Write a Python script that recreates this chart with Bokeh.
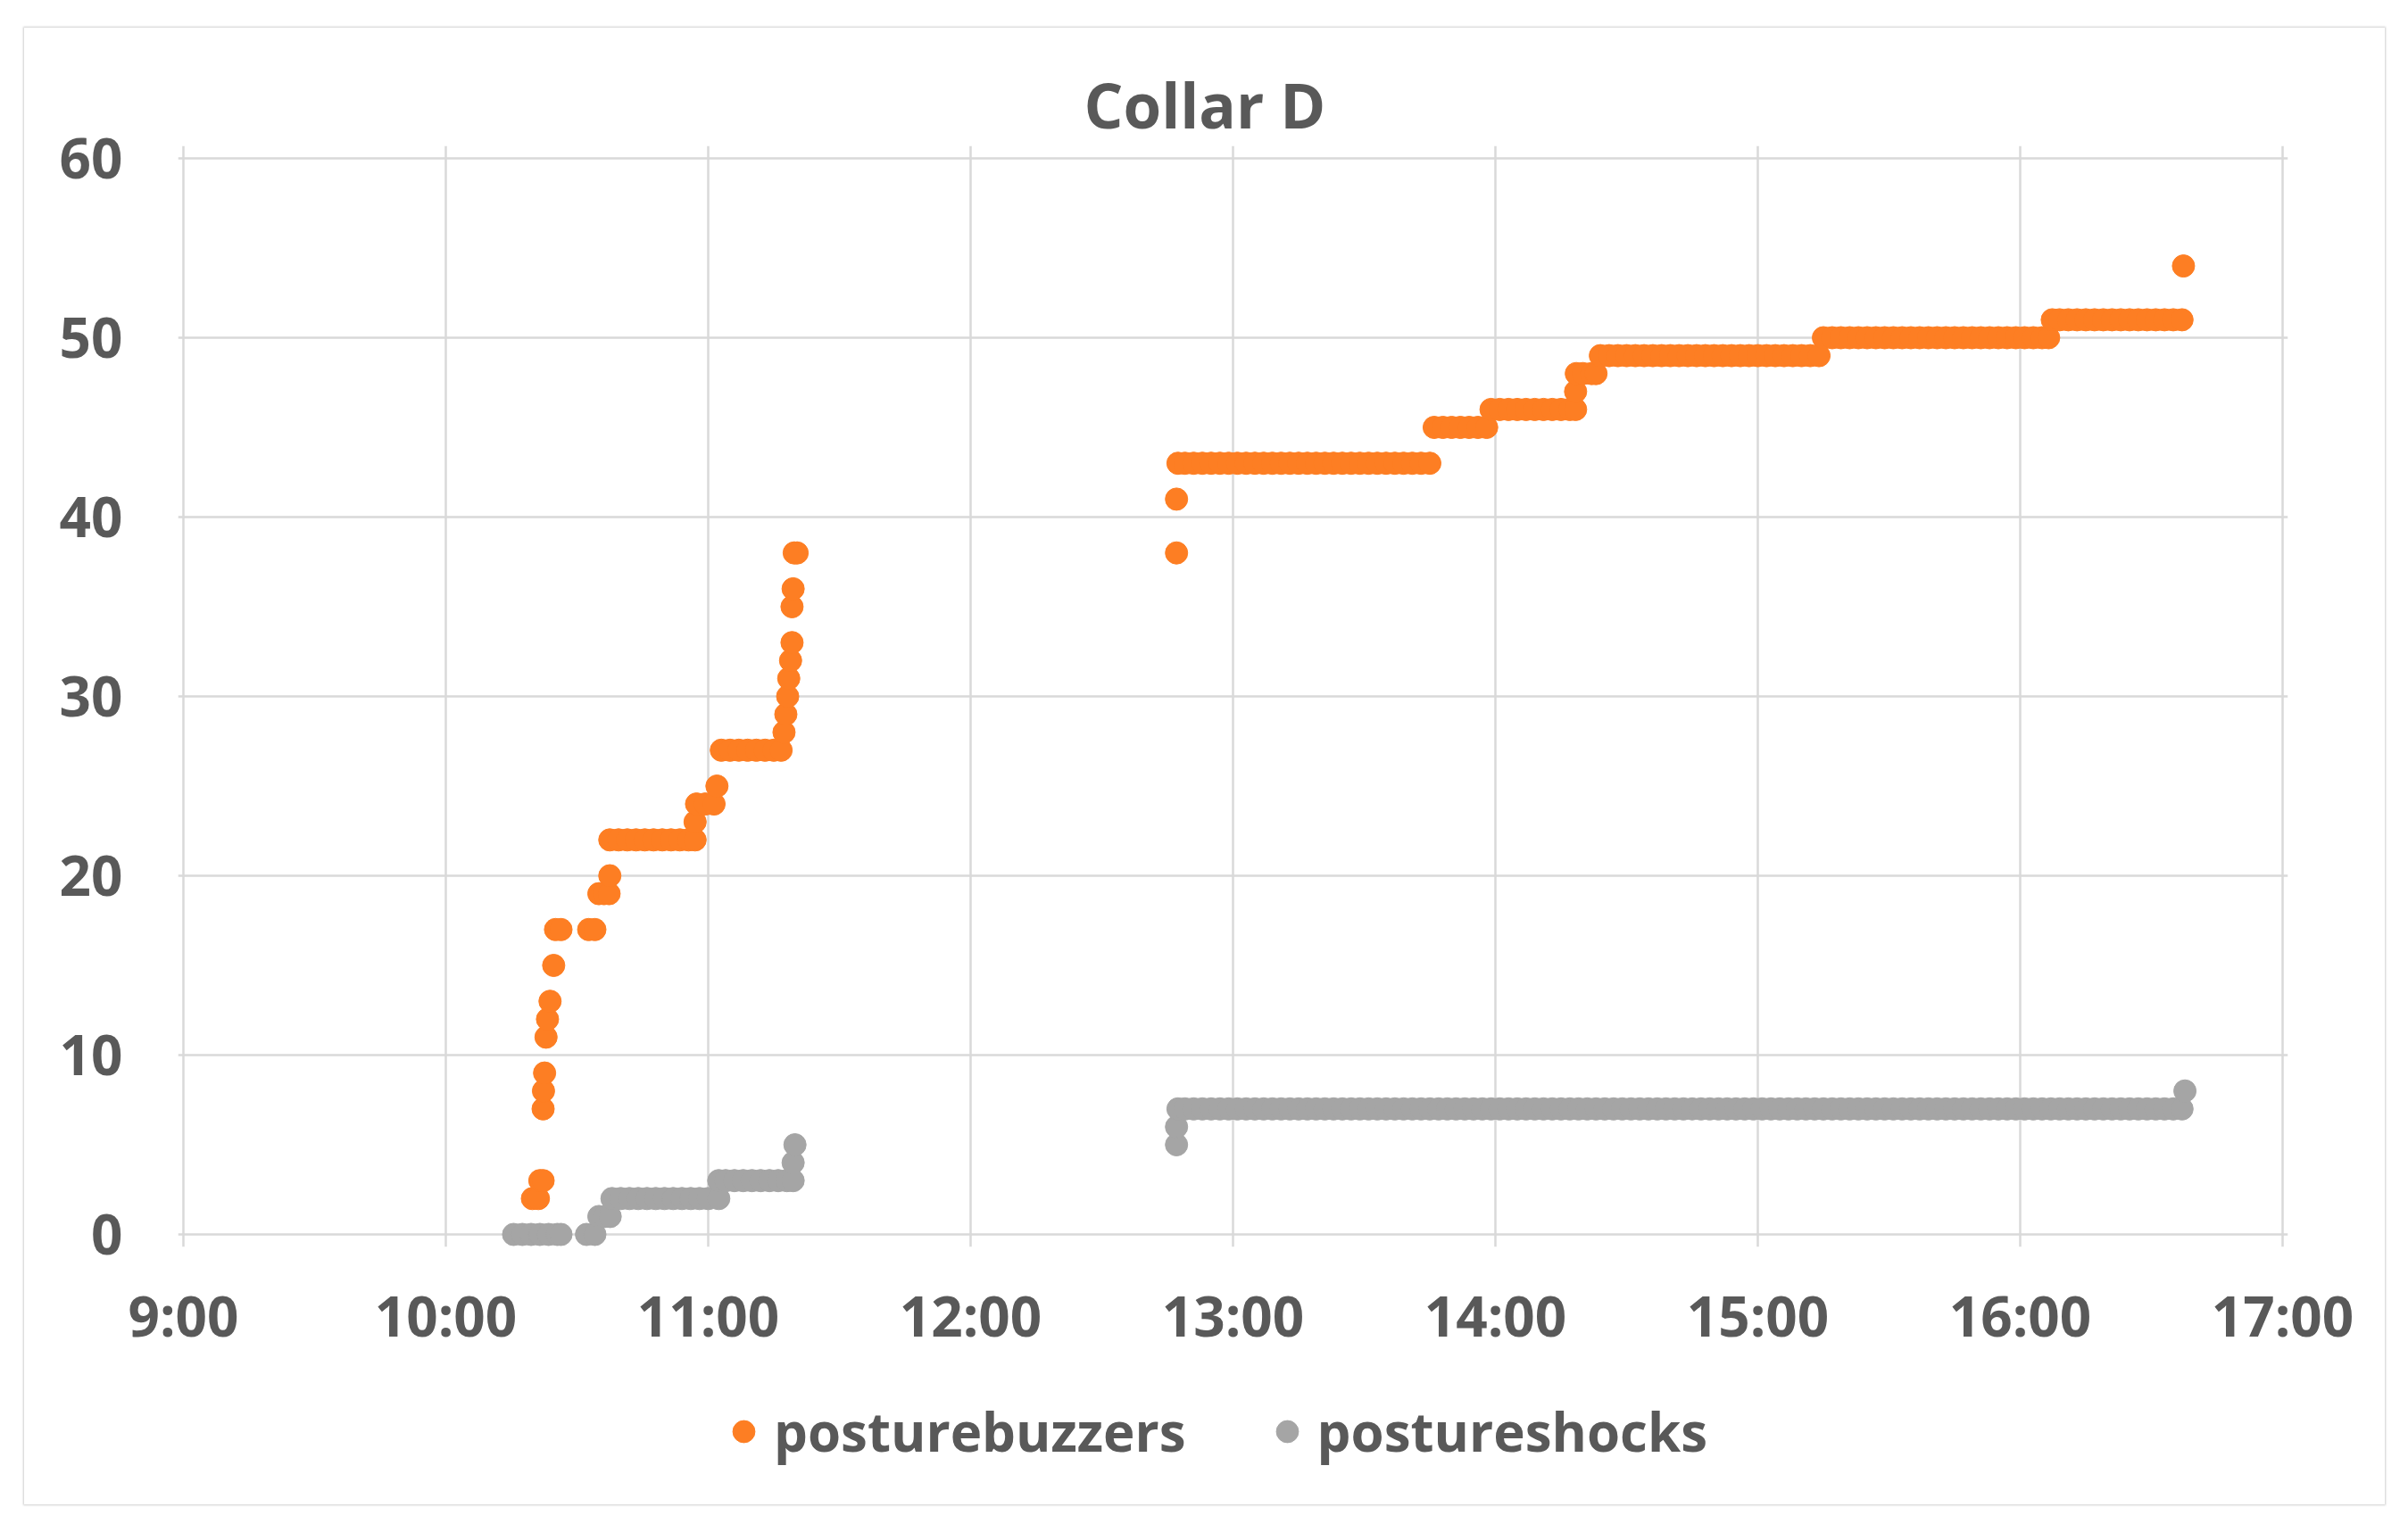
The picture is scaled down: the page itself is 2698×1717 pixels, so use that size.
from bokeh.plotting import figure
from bokeh.layouts import column
from bokeh.models import Range1d, FixedTicker, Legend, LegendItem, ColumnDataSource
from bokeh.embed import file_html
from bokeh.resources import INLINE

# ---------------- data ----------------
title_text = "Collar D"
series_names = ["posturebuzzers", "postureshocks"]
series_colors = ["#FD7E23", "#A5A5A5"]

x_tick_hours = [9, 10, 11, 12, 13, 14, 15, 16, 17]
x_tick_labels = ["9:00", "10:00", "11:00", "12:00", "13:00", "14:00", "15:00", "16:00", "17:00"]
y_ticks = [0, 10, 20, 30, 40, 50, 60]

# cumulative count -> clock times at which that count was logged
posturebuzzers = {
    2: ["10:19:48", "10:21:10"],
    3: ["10:21:30", "10:22:15"],
    7: ["10:22:15"],
    8: ["10:22:20"],
    9: ["10:22:35"],
    11: ["10:22:55"],
    12: ["10:23:15"],
    13: ["10:23:50"],
    15: ["10:24:40"],
    17: ["10:25:05", "10:26:20", "10:32:40", "10:34:05"],
    19: ["10:35:00", "10:36:10", "10:37:20"],
    20: ["10:37:30"],
    22: ["10:37:30", "10:39:30", "10:41:30", "10:43:30", "10:45:30", "10:47:30",
         "10:49:30", "10:51:30", "10:53:30", "10:55:30", "10:57:00"],
    23: ["10:57:00"],
    24: ["10:57:20", "10:59:20", "11:01:20"],
    25: ["11:02:00"],
    27: ["11:03:00", "11:05:00", "11:07:00", "11:09:00", "11:11:00", "11:13:00",
         "11:15:00", "11:16:40"],
    28: ["11:17:20"],
    29: ["11:17:45"],
    30: ["11:18:10"],
    31: ["11:18:25"],
    32: ["11:18:50"],
    33: ["11:19:10"],
    35: ["11:19:10"],
    36: ["11:19:25"],
    38: ["11:19:40", "11:20:20", "12:47:05"],
    41: ["12:47:05"],
    43: ["12:47:25", "12:49", "12:51", "12:53", "12:55", "12:57", "12:59",
         "13:01", "13:03", "13:05", "13:07", "13:09", "13:11", "13:13", "13:15",
         "13:17", "13:19", "13:21", "13:23", "13:25", "13:27", "13:29", "13:31",
         "13:33", "13:35", "13:37", "13:39", "13:41", "13:43", "13:45"],
    45: ["13:46", "13:48", "13:50", "13:52", "13:54", "13:56", "13:58"],
    46: ["13:59", "14:01", "14:03", "14:05", "14:07", "14:09", "14:11", "14:13",
         "14:15", "14:17", "14:18:20"],
    47: ["14:18:20"],
    48: ["14:18:30", "14:20", "14:22", "14:23"],
    49: ["14:24", "14:26", "14:28", "14:30", "14:32", "14:34", "14:36", "14:38",
         "14:40", "14:42", "14:44", "14:46", "14:48", "14:50", "14:52", "14:54",
         "14:56", "14:58", "15:00", "15:02", "15:04", "15:06", "15:08", "15:10",
         "15:12", "15:14"],
    50: ["15:15", "15:17", "15:19", "15:21", "15:23", "15:25", "15:27", "15:29",
         "15:31", "15:33", "15:35", "15:37", "15:39", "15:41", "15:43", "15:45",
         "15:47", "15:49", "15:51", "15:53", "15:55", "15:57", "15:59", "16:01",
         "16:03", "16:05", "16:06:30"],
    51: ["16:07:20", "16:09", "16:11", "16:13", "16:15", "16:17", "16:19", "16:21",
         "16:23", "16:25", "16:27", "16:29", "16:31", "16:33", "16:35", "16:37"],
    54: ["16:37:20"],
}

postureshocks = {
    0: ["10:15:30", "10:17:30", "10:19:30", "10:21:30", "10:23:30", "10:25:30",
        "10:26:20", "10:32:10", "10:34:05"],
    1: ["10:35:00", "10:36:20", "10:37:35"],
    2: ["10:38", "10:40", "10:42", "10:44", "10:46", "10:48", "10:50", "10:52",
        "10:54", "10:56", "10:58", "11:00", "11:02:25"],
    3: ["11:02:25", "11:04", "11:06", "11:08", "11:10", "11:12", "11:14", "11:16",
        "11:18", "11:19:25"],
    4: ["11:19:25"],
    5: ["11:19:50", "12:47:05"],
    6: ["12:47:05"],
    7: ["12:47:25", "12:49", "12:51", "12:53", "12:55", "12:57", "12:59",
        "13:01", "13:03", "13:05", "13:07", "13:09", "13:11", "13:13", "13:15",
        "13:17", "13:19", "13:21", "13:23", "13:25", "13:27", "13:29", "13:31",
        "13:33", "13:35", "13:37", "13:39", "13:41", "13:43", "13:45", "13:47",
        "13:49", "13:51", "13:53", "13:55", "13:57", "13:59",
        "14:01", "14:03", "14:05", "14:07", "14:09", "14:11", "14:13", "14:15",
        "14:17", "14:19", "14:21", "14:23", "14:25", "14:27", "14:29", "14:31",
        "14:33", "14:35", "14:37", "14:39", "14:41", "14:43", "14:45", "14:47",
        "14:49", "14:51", "14:53", "14:55", "14:57", "14:59",
        "15:01", "15:03", "15:05", "15:07", "15:09", "15:11", "15:13", "15:15",
        "15:17", "15:19", "15:21", "15:23", "15:25", "15:27", "15:29", "15:31",
        "15:33", "15:35", "15:37", "15:39", "15:41", "15:43", "15:45", "15:47",
        "15:49", "15:51", "15:53", "15:55", "15:57", "15:59",
        "16:01", "16:03", "16:05", "16:07", "16:09", "16:11", "16:13", "16:15",
        "16:17", "16:19", "16:21", "16:23", "16:25", "16:27", "16:29", "16:31",
        "16:33", "16:35", "16:37"],
    8: ["16:37:40"],
}


def to_hours(s):
    parts = [int(v) for v in s.split(":")]
    while len(parts) < 3:
        parts.append(0)
    return parts[0] + parts[1] / 60 + parts[2] / 3600


def to_columns(steps):
    xs, ys = [], []
    for count, times in steps.items():
        for t in times:
            xs.append(to_hours(t))
            ys.append(count)
    return ColumnDataSource(dict(x=xs, y=ys))


# ---------------- layout ----------------
FONT = "Open Sans"
TEXT = "#595959"
GRID = "#d9d9d9"
PX_H = 294.0      # pixels per hour
PX_U = 20.1       # pixels per count unit
PAD_X = 6.0
PAD_Y = 14.0
CHART_W = 2645
CHART_H = 1655

p = figure(
    frame_width=2364, frame_height=1234,
    x_range=Range1d(x_tick_hours[0] - PAD_X / PX_H, x_tick_hours[-1] + PAD_X / PX_H),
    y_range=Range1d(y_ticks[0] - PAD_Y / PX_U, y_ticks[-1] + PAD_Y / PX_U),
    output_backend="svg", toolbar_location=None,
    min_border_left=172, min_border_top=132, min_border_right=109, min_border_bottom=130,
    background_fill_color="white", border_fill_color="white",
    outline_line_color=None,
)

p.title.text = title_text
p.title.align = "left"
p.title.offset = 1015
p.title.standoff = 0
p.title.text_font = FONT
p.title.text_font_size = "69px"
p.title.text_font_style = "bold"
p.title.text_color = TEXT

for ax in (p.xaxis[0], p.yaxis[0]):
    ax.axis_line_color = None
    ax.major_tick_line_color = None
    ax.minor_tick_line_color = None
    ax.major_label_text_font = FONT
    ax.major_label_text_font_size = "62px"
    ax.major_label_text_font_style = "bold"
    ax.major_label_text_color = TEXT

p.xaxis.ticker = FixedTicker(ticks=x_tick_hours)
p.xaxis.major_label_overrides = {h: lab for h, lab in zip(x_tick_hours, x_tick_labels)}
p.xaxis.major_label_standoff = 28
p.yaxis.ticker = FixedTicker(ticks=y_ticks)
p.yaxis.major_label_standoff = 56

p.xgrid.ticker = FixedTicker(ticks=x_tick_hours)
p.ygrid.ticker = FixedTicker(ticks=y_ticks)
for g in (p.xgrid[0], p.ygrid[0]):
    g.grid_line_color = GRID
    g.grid_line_width = 2.5

sources = [to_columns(posturebuzzers), to_columns(postureshocks)]
for src, color in zip(sources, series_colors):
    p.scatter("x", "y", source=src, size=25, fill_color=color, line_color=color, line_width=1)

# legend strip below the plot (same series, legend only)
p_h = 132 + 1234 + 130
lf = figure(
    width=CHART_W, height=CHART_H - p_h,
    x_range=Range1d(0, 1), y_range=Range1d(0, 1),
    x_axis_type=None, y_axis_type=None,
    output_backend="svg", toolbar_location=None,
    min_border=0, outline_line_color=None,
    background_fill_color="white", border_fill_color="white",
)
lf.xgrid.visible = False
lf.ygrid.visible = False
leg_renderers = [lf.scatter("x", "y", source=src, size=25, fill_color=c, line_color=c)
                 for src, c in zip(sources, series_colors)]

legend = Legend(
    items=[LegendItem(label=n, renderers=[r]) for n, r in zip(series_names, leg_renderers)],
    orientation="horizontal", location=(603, 41),
    label_text_font=FONT, label_text_font_size="60px", label_text_font_style="bold",
    label_text_color=TEXT, glyph_width=62, glyph_height=62,
    label_standoff=3, spacing=82, padding=0, margin=0,
    border_line_color=None, background_fill_alpha=0,
)
lf.add_layout(legend, "center")

chart = column(p, lf, spacing=0)
chart.margin = (31, 0, 0, 27)
chart.styles = {"box-shadow": "0 0 2px 1px #cfcfcf", "background": "white"}

open("out.html", "w").write(file_html(chart, INLINE))
